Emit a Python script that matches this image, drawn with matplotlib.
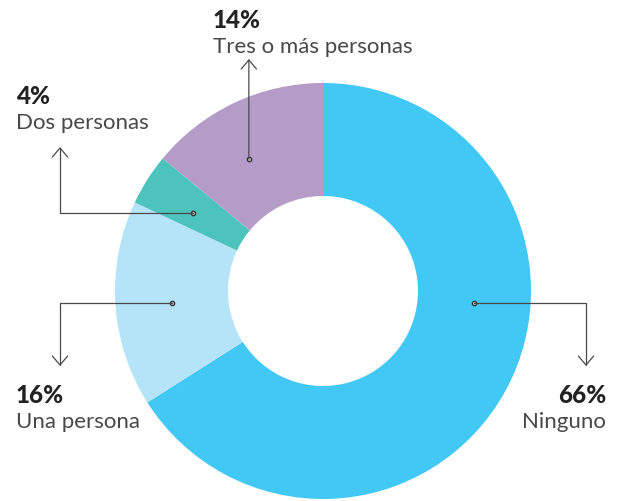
import numpy as np
import matplotlib.pyplot as plt

# household data
labels = ['Ninguno', 'Una persona', 'Dos personas', 'Tres o más personas']
values = [66, 16, 4, 14]
colors = ['#42C8F4', '#B5E3F8', '#4CC3BC', '#B59BC8']

# where each leader line starts (angle on ring, degrees) and where its arrow points
dot_angles = [-4.5, 184.5, 148.8, 119.3]
arrow_tips = [(586, 135), (60, 135), (60, 354), (249, 442)]
label_pos = [(606, 99), (16, 99), (16, 398), (213, 474)]
label_ha = ['right', 'left', 'left', 'left']

W, H = 620, 502
cx, cy = 323, 210
R, r_in = 208, 95

fig = plt.figure(figsize=(W / 100, H / 100), dpi=100)
ax = fig.add_axes([0, 0, 1, 1])

ax.pie(values, colors=colors, startangle=90, counterclock=False,
       radius=R, center=(cx, cy),
       wedgeprops=dict(width=R - r_in, linewidth=0))

r_mid = (R + r_in) / 2
line_col = '#4a4a4a'
for i in range(len(values)):
    a = np.deg2rad(dot_angles[i])
    dx = cx + r_mid * np.cos(a)
    dy = cy + r_mid * np.sin(a)
    tx, ty = arrow_tips[i]
    # horizontal first, then vertical into the arrow head
    if abs(tx - dx) > 5:
        conn = 'angle,angleA=0,angleB=90,rad=0'
    else:
        conn = 'arc3,rad=0'
        tx = dx
    ax.annotate('', xy=(tx, ty), xytext=(dx, dy),
                arrowprops=dict(arrowstyle='->,head_length=0.65,head_width=0.55',
                                mutation_scale=10, color=line_col, lw=0.9,
                                shrinkA=0, shrinkB=0, connectionstyle=conn))
    ax.plot(dx, dy, 'o', ms=3.2, mfc='#b0b0b0', mec='#333333', mew=0.9)

    lx, ly = label_pos[i]
    ax.text(lx, ly, f'{values[i]}%', ha=label_ha[i], va='baseline',
            fontsize=17.5, fontfamily='Lato', fontweight='black', color='#222222')
    ax.text(lx, ly - 25, labels[i], ha=label_ha[i], va='baseline',
            fontsize=16, fontfamily='Lato', fontweight='normal', color='#484848')

ax.set_xlim(0, W)
ax.set_ylim(0, H)
ax.set_aspect('equal')
ax.axis('off')

fig.savefig('out.png', dpi=100)
